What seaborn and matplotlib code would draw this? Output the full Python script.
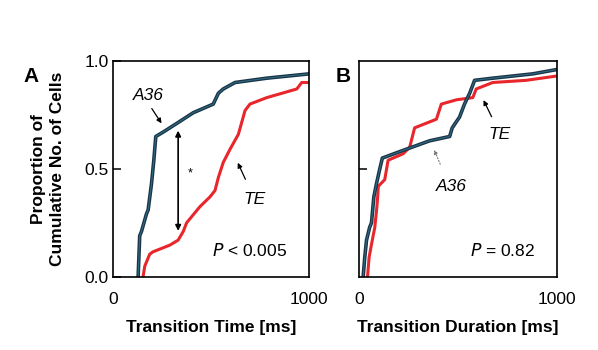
import numpy as np
import pandas as pd
import matplotlib
matplotlib.use("Agg")
import matplotlib.pyplot as plt
import seaborn as sns

# Panel A: transition time (ms) vs cumulative proportion
a36_time_x = [128, 136, 145, 170, 179, 196, 208, 218, 255, 324, 409, 511, 537, 562, 622, 784, 1000]
a36_time_y = [0.0, 0.19, 0.21, 0.29, 0.31, 0.43, 0.54, 0.65, 0.67, 0.71, 0.76, 0.80, 0.85, 0.87, 0.90, 0.92, 0.94]
te_time_x = [153, 162, 187, 204, 290, 332, 358, 375, 443, 494, 520, 537, 562, 596, 639, 673, 698, 784, 937, 962, 1000]
te_time_y = [0.0, 0.05, 0.105, 0.116, 0.147, 0.17, 0.21, 0.25, 0.325, 0.37, 0.40, 0.46, 0.53, 0.59, 0.66, 0.77, 0.80, 0.83, 0.87, 0.90, 0.90]

# Panel B: transition duration (ms) vs cumulative proportion
a36_dur_x = [22, 30, 39, 55, 64, 76, 89, 106, 119, 207, 358, 459, 472, 509, 534, 560, 585, 677, 879, 1000]
a36_dur_y = [0.0, 0.09, 0.17, 0.23, 0.25, 0.37, 0.43, 0.50, 0.55, 0.58, 0.63, 0.65, 0.69, 0.74, 0.80, 0.85, 0.91, 0.92, 0.94, 0.96]
te_dur_x = [44, 52, 64, 81, 92, 99, 131, 148, 224, 257, 282, 392, 417, 494, 576, 593, 677, 845, 1000]
te_dur_y = [0.0, 0.09, 0.15, 0.23, 0.33, 0.42, 0.45, 0.54, 0.57, 0.60, 0.69, 0.73, 0.80, 0.82, 0.83, 0.87, 0.90, 0.91, 0.93]

sns.set_style("ticks")
plt.rcParams['font.family'] = ['Liberation Sans', 'DejaVu Sans']
plt.rcParams.update({'text.color': 'black', 'axes.labelcolor': 'black',
                     'xtick.color': 'black', 'ytick.color': 'black',
                     'axes.edgecolor': 'black'})

navy = '#1a3346'
red = '#e8262c'
fs = 12.5

fig = plt.figure(figsize=(5.98, 3.5), dpi=100)
ax_a = fig.add_axes([0.189, 0.209, 0.328, 0.617])
ax_b = fig.add_axes([0.600, 0.209, 0.331, 0.617])


def draw_panel(ax, ax_x, ay, tx, ty):
    sns.lineplot(x=tx, y=ty, ax=ax, color=red, lw=2.2, sort=False, estimator=None)
    sns.lineplot(x=ax_x, y=ay, ax=ax, color=navy, lw=2.6, sort=False, estimator=None)
    sns.lineplot(x=ax_x, y=ay, ax=ax, color='#3a8fa8', lw=0.8, sort=False, estimator=None, alpha=0.6)
    ax.set_xlim(0, 1000)
    ax.set_ylim(0, 1.0)
    ax.set_xticks([0, 1000])
    ax.tick_params(axis='x', length=0, pad=11, labelsize=fs)
    ax.tick_params(axis='y', direction='in', length=6, width=1.1, labelsize=fs, pad=3)
    for s in ax.spines.values():
        s.set_linewidth(1.2)


draw_panel(ax_a, a36_time_x, a36_time_y, te_time_x, te_time_y)
draw_panel(ax_b, a36_dur_x, a36_dur_y, te_dur_x, te_dur_y)

ax_a.set_yticks([0.0, 0.5, 1.0])
ax_a.set_yticklabels(['0.0', '0.5', '1.0'])
ax_a.set_ylabel('')
# two-line y label drawn as separate lines
ax_a.text(-0.378, 0.5, 'Proportion of', transform=ax_a.transAxes, rotation=90,
          fontsize=fs, fontweight='bold', ha='center', va='center')
ax_a.text(-0.281, 0.5, 'Cumulative No. of Cells', transform=ax_a.transAxes, rotation=90,
          fontsize=fs, fontweight='bold', ha='center', va='center')
ax_a.set_xlabel('Transition Time [ms]', fontsize=fs, fontweight='bold', labelpad=9)

ax_b.set_yticks([0.5])
ax_b.set_yticklabels([])
ax_b.set_ylabel('')
ax_b.set_xlabel('Transition Duration [ms]', fontsize=fs, fontweight='bold', labelpad=9)

# panel letters
fig.text(0.04, 0.765, 'A', fontsize=15, fontweight='bold')
fig.text(0.562, 0.765, 'B', fontsize=15, fontweight='bold')

# annotations panel A
ax_a.annotate('', xy=(332, 0.69), xytext=(332, 0.20),
              arrowprops=dict(arrowstyle='<|-|>', color='black', lw=1.2, mutation_scale=8))
ax_a.text(395, 0.48, '*', fontsize=9, ha='center', va='center')
ax_a.text(179, 0.84, 'A36', fontsize=fs, style='italic', ha='center', va='center')
ax_a.annotate('', xy=(255, 0.70), xytext=(190, 0.79),
              arrowprops=dict(arrowstyle='-|>', color='black', lw=0.9, mutation_scale=7))
ax_a.text(724, 0.36, 'TE', fontsize=fs, style='italic', ha='center', va='center')
ax_a.annotate('', xy=(630, 0.54), xytext=(681, 0.44),
              arrowprops=dict(arrowstyle='-|>', color='black', lw=0.9, mutation_scale=7))
ax_a.text(698, 0.12, '$\\it{P}$ < 0.005', fontsize=fs, ha='center', va='center')

# annotations panel B
ax_b.text(711, 0.66, 'TE', fontsize=fs, style='italic', ha='center', va='center')
ax_b.annotate('', xy=(624, 0.83), xytext=(677, 0.73),
              arrowprops=dict(arrowstyle='-|>', color='black', lw=0.9, mutation_scale=7))
ax_b.text(467, 0.42, 'A36', fontsize=fs, style='italic', ha='center', va='center')
ax_b.annotate('', xy=(375, 0.60), xytext=(417, 0.51),
              arrowprops=dict(arrowstyle='-|>', color='#777777', lw=0.8, ls=':', mutation_scale=6))
ax_b.text(728, 0.12, '$\\it{P}$ = 0.82', fontsize=fs, ha='center', va='center')

fig.savefig('out.png', dpi=100)
